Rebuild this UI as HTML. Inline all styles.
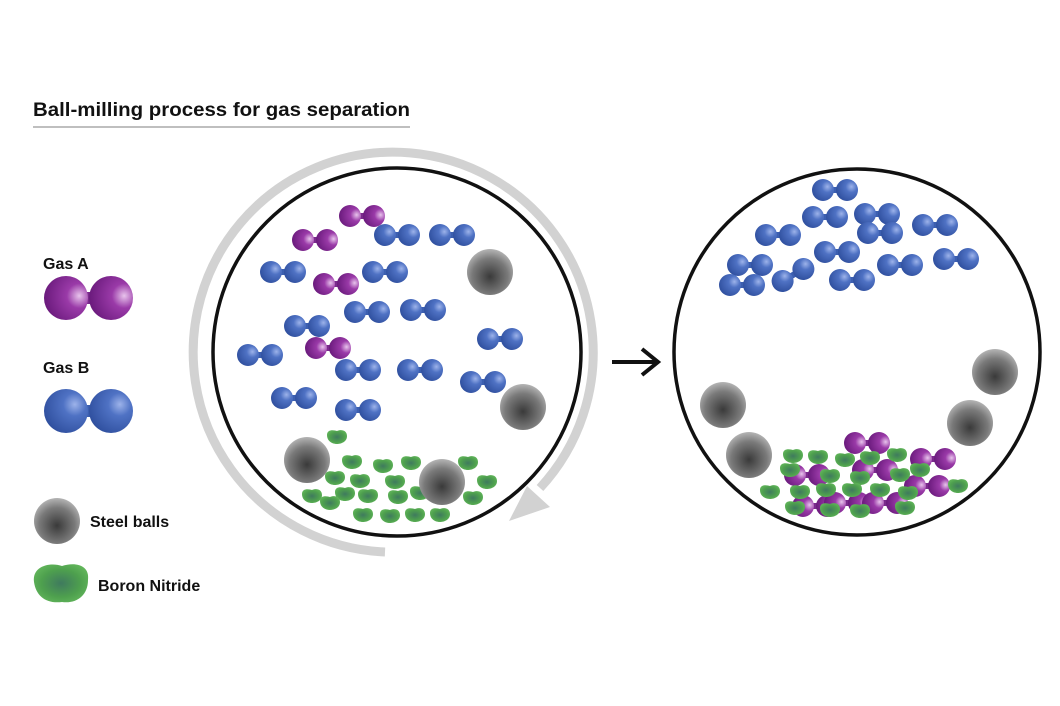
<!DOCTYPE html>
<html><head><meta charset="utf-8"><style>
html,body{margin:0;padding:0;background:#fff;}
svg{display:block;}
text{font-family:"Liberation Sans",sans-serif;font-weight:bold;fill:#111;}
</style></head><body>
<svg width="1060" height="706" viewBox="0 0 1060 706" xmlns="http://www.w3.org/2000/svg">
<defs>
<radialGradient id="gb" cx="0.7" cy="0.35" r="0.75"><stop offset="0" stop-color="#9db3ea"/><stop offset="0.35" stop-color="#4f72c4"/><stop offset="1" stop-color="#2f4f9e"/></radialGradient>
<radialGradient id="gp" cx="0.8" cy="0.45" r="0.8"><stop offset="0" stop-color="#e8c4ec"/><stop offset="0.35" stop-color="#9a3aa8"/><stop offset="1" stop-color="#6a1a7c"/></radialGradient>
<radialGradient id="gs" cx="0.5" cy="0.6" r="0.6"><stop offset="0" stop-color="#3a3a3a"/><stop offset="0.65" stop-color="#7a7a7a"/><stop offset="1" stop-color="#b5b5b5"/></radialGradient>
<radialGradient id="gg" cx="0.5" cy="0.5" r="0.6"><stop offset="0" stop-color="#3f7a5e"/><stop offset="0.6" stop-color="#4ea04e"/><stop offset="1" stop-color="#64b85c"/></radialGradient>
<g id="mb"><rect x="-12" y="-3" width="24" height="6" fill="#3c5fb0"/><circle cx="-12" cy="0" r="11" fill="url(#gb)"/><circle cx="12" cy="0" r="11" fill="url(#gb)"/></g>
<g id="mp"><rect x="-12" y="-3" width="24" height="6" fill="#7a2a8c"/><circle cx="-12" cy="0" r="11" fill="url(#gp)"/><circle cx="12" cy="0" r="11" fill="url(#gp)"/></g>
<g id="ball"><circle r="23" fill="url(#gs)"/></g>
<g id="bn"><path d="M-10,-2 C-10,-8 -3,-7 0,-6 C4,-8 10,-7 10,-1 C10,5 4,7 0,7 C-5,7 -10,4 -10,-2Z" fill="url(#gg)"/></g>
</defs>

<text x="33" y="116" font-size="19" textLength="377" lengthAdjust="spacingAndGlyphs">Ball-milling process for gas separation</text>
<line x1="33" y1="127" x2="410" y2="127" stroke="#aaa" stroke-width="1.5"/>

<text x="43" y="269" font-size="16">Gas A</text>
<rect x="66" y="292" width="44" height="12" fill="#7a2a8c"/>
<circle cx="66" cy="298" r="22" fill="url(#gp)"/><circle cx="111" cy="298" r="22" fill="url(#gp)"/>
<text x="43" y="373" font-size="16">Gas B</text>
<rect x="66" y="405" width="44" height="12" fill="#3c5fb0"/>
<circle cx="66" cy="411" r="22" fill="url(#gb)"/><circle cx="111" cy="411" r="22" fill="url(#gb)"/>
<circle cx="57" cy="521" r="23" fill="url(#gs)"/>
<text x="90" y="527" font-size="16">Steel balls</text>
<path d="M34,582 C32,566 50,562 62,566 C74,562 90,564 88,580 C88,596 76,604 62,602 C46,604 36,596 34,582Z" fill="url(#gg)"/>
<text x="98" y="591" font-size="16">Boron Nitride</text>

<path d="M385,552 A200,200 0 1 1 540,488" fill="none" stroke="#d2d2d2" stroke-width="9"/>
<path d="M509,521 L527,486 L550,507 Z" fill="#d2d2d2"/>

<circle cx="397" cy="352" r="184" fill="none" stroke="#111" stroke-width="3.5"/>
<use href="#mp" x="362" y="216"/><use href="#mp" x="315" y="240"/><use href="#mp" x="336" y="284"/><use href="#mp" x="328" y="348"/>
<use href="#mb" x="397" y="235"/><use href="#mb" x="452" y="235"/><use href="#mb" x="283" y="272"/><use href="#mb" x="385" y="272"/>
<use href="#mb" x="367" y="312"/><use href="#mb" x="423" y="310"/><use href="#mb" x="307" y="326"/><use href="#mb" x="500" y="339"/>
<use href="#mb" x="260" y="355"/><use href="#mb" x="358" y="370"/><use href="#mb" x="420" y="370"/><use href="#mb" x="483" y="382"/>
<use href="#mb" x="294" y="398"/><use href="#mb" x="358" y="410"/>
<use href="#ball" x="490" y="272"/><use href="#ball" x="523" y="407"/>
<g>
<use href="#bn" x="337" y="437"/><use href="#bn" x="352" y="462"/><use href="#bn" x="383" y="466"/><use href="#bn" x="411" y="463"/><use href="#bn" x="468" y="463"/>
<use href="#bn" x="335" y="478"/><use href="#bn" x="360" y="481"/><use href="#bn" x="395" y="482"/><use href="#bn" x="487" y="482"/>
<use href="#bn" x="312" y="496"/><use href="#bn" x="345" y="494"/><use href="#bn" x="368" y="496"/><use href="#bn" x="398" y="497"/><use href="#bn" x="473" y="498"/>
<use href="#bn" x="330" y="503"/><use href="#bn" x="363" y="515"/><use href="#bn" x="390" y="516"/><use href="#bn" x="415" y="515"/><use href="#bn" x="440" y="515"/>
<use href="#bn" x="420" y="493"/>
</g>
<use href="#ball" x="307" y="460"/><use href="#ball" x="442" y="482"/>

<line x1="612" y1="362" x2="655" y2="362" stroke="#111" stroke-width="4"/>
<path d="M642,349 L658,362 L642,375" fill="none" stroke="#111" stroke-width="4"/>

<circle cx="857" cy="352" r="183" fill="none" stroke="#111" stroke-width="3.5"/>
<use href="#mb" x="835" y="190"/><use href="#mb" x="825" y="217"/><use href="#mb" x="877" y="214"/><use href="#mb" x="935" y="225"/>
<use href="#mb" x="778" y="235"/><use href="#mb" x="880" y="233"/><use href="#mb" x="837" y="252"/><use href="#mb" x="750" y="265"/>
<use href="#mb" x="793" y="275" transform="rotate(-30 793 275)"/><use href="#mb" x="900" y="265"/><use href="#mb" x="956" y="259"/>
<use href="#mb" x="742" y="285"/><use href="#mb" x="852" y="280"/>
<use href="#ball" x="723" y="405"/><use href="#ball" x="749" y="455"/><use href="#ball" x="995" y="372"/><use href="#ball" x="970" y="423"/>
<use href="#mp" x="867" y="443"/><use href="#mp" x="933" y="459"/><use href="#mp" x="807" y="475"/><use href="#mp" x="927" y="486"/>
<use href="#mp" x="815" y="506"/><use href="#mp" x="847" y="503"/><use href="#mp" x="885" y="503"/><use href="#mp" x="875" y="470"/>
<use href="#bn" x="793" y="456"/><use href="#bn" x="818" y="457"/><use href="#bn" x="845" y="460"/><use href="#bn" x="870" y="458"/><use href="#bn" x="897" y="455"/>
<use href="#bn" x="790" y="470"/><use href="#bn" x="830" y="476"/><use href="#bn" x="860" y="478"/><use href="#bn" x="900" y="475"/><use href="#bn" x="920" y="470"/>
<use href="#bn" x="770" y="492"/><use href="#bn" x="800" y="492"/><use href="#bn" x="826" y="490"/><use href="#bn" x="852" y="490"/><use href="#bn" x="880" y="490"/><use href="#bn" x="908" y="493"/><use href="#bn" x="958" y="486"/>
<use href="#bn" x="830" y="510"/><use href="#bn" x="860" y="511"/><use href="#bn" x="905" y="508"/><use href="#bn" x="795" y="508"/>
</svg>
</body></html>
